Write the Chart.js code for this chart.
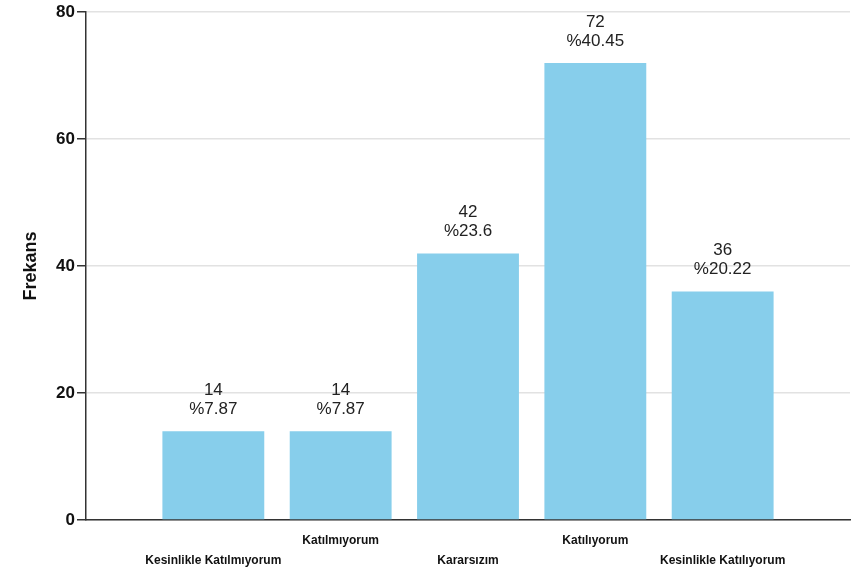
<!DOCTYPE html>
<html>
<head>
<meta charset="utf-8">
<script src="https://cdn.jsdelivr.net/npm/chart.js@4/dist/chart.umd.min.js"></script>
<style>
html,body{margin:0;padding:0;background:#fff;}
#wrap{width:861px;height:576px;position:relative;}
</style>
</head>
<body>
<div id="wrap"><canvas id="c" width="861" height="576"></canvas></div>
<script>
const categories = ['Kesinlikle Katılmıyorum', 'Katılmıyorum', 'Kararsızım', 'Katılıyorum', 'Kesinlikle Katılıyorum'];
const counts = [14, 14, 42, 72, 36];
const percents = ['7.87', '7.87', '23.6', '40.45', '20.22'];
const yTicks = [0, 20, 40, 60, 80];
const yTitle = 'Frekans';

const labelPlugin = {
  id: 'barLabels',
  afterDatasetsDraw(chart) {
    const ctx = chart.ctx;
    const meta = chart.getDatasetMeta(0);
    ctx.save();
    ctx.font = '17px "Liberation Sans", Arial, sans-serif';
    ctx.fillStyle = '#222';
    ctx.textAlign = 'center';
    ctx.textBaseline = 'middle';
    meta.data.forEach((bar, i) => {
      ctx.fillText(String(counts[i]), bar.x, bar.y - 41);
      ctx.fillText('%' + percents[i], bar.x, bar.y - 22);
    });
    ctx.restore();
  }
};

new Chart(document.getElementById('c'), {
  type: 'bar',
  data: {
    datasets: [{
      data: counts.map((v, i) => ({ x: i, y: v })),
      backgroundColor: '#87CEEB',
      borderWidth: 0,
      categoryPercentage: 1,
      barPercentage: 0.8
    }]
  },
  options: {
    responsive: false,
    animation: false,
    layout: { padding: { top: 12, right: 10, left: 0, bottom: 0 } },
    plugins: { legend: { display: false }, tooltip: { enabled: false } },
    scales: {
      x: {
        type: 'linear',
        offset: false,
        min: -1,
        max: categories.length,
        afterFit: s => { s.height = 56; },
        grid: { display: false, drawTicks: false },
        border: { display: true, color: '#333', width: 1.5 },
        ticks: {
          stepSize: 1,
          autoSkip: false,
          maxRotation: 0,
          padding: 11,
          color: '#111',
          font: { family: '"Liberation Sans", Arial, sans-serif', size: 12, weight: 'bold', lineHeight: 20 / 12 },
          callback: (v) => {
            const i = Math.round(v);
            if (i < 0 || i >= categories.length) return '';
            return i % 2 === 0 ? ['', categories[i]] : [categories[i]];
          }
        }
      },
      y: {
        min: yTicks[0],
        max: yTicks[yTicks.length - 1],
        afterFit: s => { s.width = 86; },
        afterBuildTicks: s => { s.ticks = yTicks.map(v => ({ value: v })); },
        grid: { color: '#e2e2e2', tickColor: '#333', tickLength: 9, lineWidth: 1.5 },
        border: { display: true, color: '#333', width: 1.5 },
        ticks: {
          padding: 2,
          color: '#111',
          font: { family: '"Liberation Sans Narrow", "Arial Narrow", "Liberation Sans", sans-serif', size: 17, weight: 'bold' }
        },
        title: {
          display: true,
          text: yTitle,
          color: '#111',
          padding: { top: 20, bottom: 0 },
          font: { family: '"Liberation Sans", Arial, sans-serif', size: 18, weight: 'bold' }
        }
      }
    }
  },
  plugins: [labelPlugin]
});
</script>
</body>
</html>
